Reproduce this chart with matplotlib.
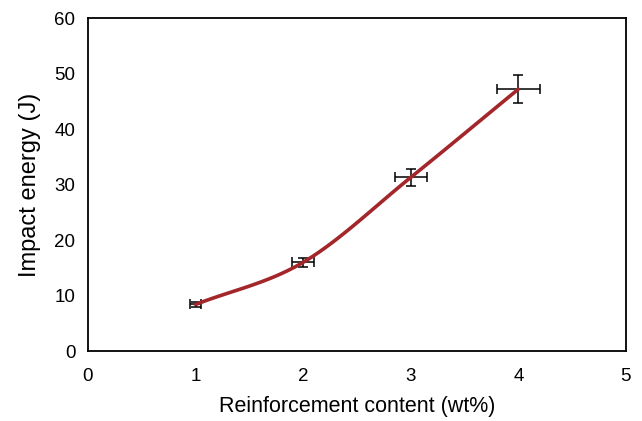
import numpy as np
import matplotlib.pyplot as plt

plt.rcParams['font.family'] = ['Liberation Sans', 'DejaVu Sans']

content = [1, 2, 3, 4]
energy = [8.4, 16.0, 31.3, 47.2]
energy_err = [0.5, 0.8, 1.5, 2.5]
content_err = [0.05, 0.1, 0.15, 0.2]


def smooth(x, y, n=40):
    # Catmull-Rom curve through the points, like a spreadsheet smoothed line
    x = np.asarray(x, float)
    y = np.asarray(y, float)
    px = np.concatenate([[2 * x[0] - x[1]], x, [2 * x[-1] - x[-2]]])
    py = np.concatenate([[2 * y[0] - y[1]], y, [2 * y[-1] - y[-2]]])
    t = np.linspace(0, 1, n)
    xs, ys = [], []
    for i in range(1, len(px) - 2):
        for p, out in ((px, xs), (py, ys)):
            p0, p1, p2, p3 = p[i - 1], p[i], p[i + 1], p[i + 2]
            out.append(0.5 * (2 * p1 + (-p0 + p2) * t
                              + (2 * p0 - 5 * p1 + 4 * p2 - p3) * t ** 2
                              + (-p0 + 3 * p1 - 3 * p2 + p3) * t ** 3))
    return np.concatenate(xs), np.concatenate(ys)


fig = plt.figure(figsize=(6.42, 4.21), dpi=100)
ax = fig.add_axes([0.137, 0.166, 0.838, 0.791])

ax.errorbar(content, energy, yerr=energy_err, xerr=content_err, fmt='none',
            ecolor='black', elinewidth=1.1, capsize=3.5, capthick=1.1, zorder=2)
sx, sy = smooth(content, energy)
ax.plot(sx, sy, color='#A3262B', linewidth=2.6, solid_capstyle='round', zorder=3)

ax.set_xlim(0, 5)
ax.set_ylim(0, 60)
ax.set_xticks(range(0, 6))
ax.set_yticks(range(0, 61, 10))
ax.tick_params(length=0, labelsize=13.5)
ax.tick_params(axis='y', pad=9)
ax.tick_params(axis='x', pad=12)
for s in ax.spines.values():
    s.set_linewidth(1.3)

ax.set_xlabel('Reinforcement content (wt%)', fontsize=15.5, labelpad=8)
ax.set_ylabel('Impact energy (J)', fontsize=17, labelpad=10)

fig.savefig('out.png', dpi=100)
